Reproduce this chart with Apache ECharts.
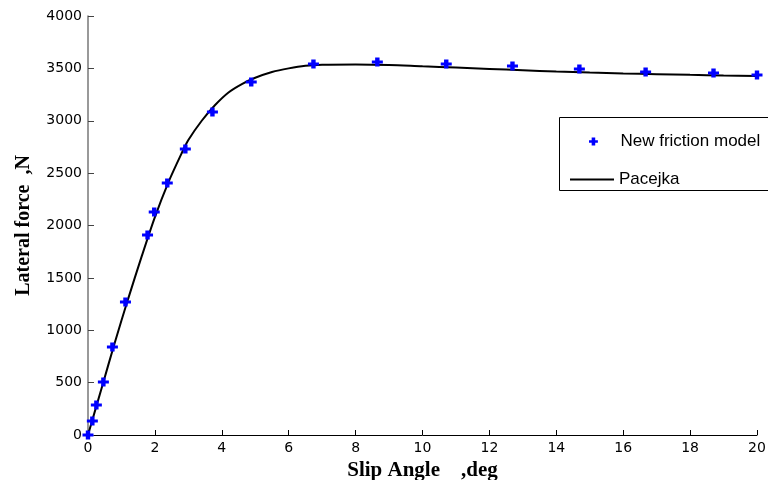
<!DOCTYPE html>
<html>
<head>
<meta charset="utf-8">
<script src="https://cdn.jsdelivr.net/npm/echarts@6/dist/echarts.min.js"></script>
<style>html,body{margin:0;padding:0;background:#fff}#c{width:768px;height:480px}</style>
</head>
<body>
<div id="c"></div>
<script>
// New friction model (points)
var modelAngle = [0.0, 0.13, 0.25, 0.46, 0.73, 1.12, 1.78, 1.98, 2.37, 2.91, 3.72, 4.88, 6.74, 8.65, 10.71, 12.69, 14.69, 16.67, 18.7, 20.0];
var modelForce = [0, 134, 286, 506, 840, 1270, 1909, 2129, 2406, 2730, 3083, 3370, 3542, 3561, 3542, 3523, 3494, 3465, 3456, 3437];
// Pacejka curve
var pacejkaAngle = [0, 0.4, 0.8, 1.2, 1.6, 2.0, 2.4, 2.8, 3.0, 3.4, 3.8, 4.2, 4.6, 5.0, 5.5, 6.0, 6.5, 7.0, 8.0, 9.0, 10.0, 11.0, 12.0, 13.0, 14.0, 15.0, 16.0, 17.0, 18.0, 19.0, 20.0];
var pacejkaForce = [0, 440, 880, 1300, 1700, 2080, 2410, 2690, 2816, 3000, 3150, 3270, 3350, 3410, 3465, 3500, 3525, 3535, 3538, 3533, 3520, 3508, 3495, 3482, 3470, 3460, 3452, 3445, 3438, 3432, 3427];

var names = ['New friction model', 'Pacejka'];
var xName = 'Slip Angle    ,deg';
var yName = 'Lateral force  ,N';

function pairs(a, b) { return a.map(function (v, i) { return [v, b[i]]; }); }

var legendText = { fontFamily: 'Liberation Sans', fontSize: 17, color: '#000' };
var chart = echarts.init(document.getElementById('c'), null, { renderer: 'canvas' });
chart.setOption({
  animation: false,
  backgroundColor: '#fff',
  grid: { left: 88, right: 11, top: 16, bottom: 45, containLabel: false, outerBoundsMode: 'none' },
  legend: [
    {
      orient: 'vertical', left: 589, top: 133, padding: 0,
      itemWidth: 44, itemHeight: 8,
      textStyle: legendText,
      data: [names[0]]
    },
    {
      orient: 'vertical', left: 569, top: 171, padding: 0,
      itemWidth: 44, itemHeight: 14,
      textStyle: legendText,
      data: [{ name: names[1], itemStyle: { color: 'rgba(0,0,0,0)', borderWidth: 0, opacity: 0 } }]
    }
  ],
  graphic: [{
    type: 'rect', left: 557, top: 115, z: 10, silent: true,
    shape: { width: 220, height: 73 },
    style: { fill: 'none', stroke: '#000', lineWidth: 1 }
  }],
  xAxis: {
    type: 'value', min: 0, max: 20, interval: 2,
    name: xName, nameLocation: 'middle', nameGap: 22,
    nameTextStyle: { fontFamily: 'Liberation Serif', fontWeight: 'bold', fontSize: 21, color: '#000' },
    axisLine: { onZero: false, lineStyle: { color: '#000', width: 1 } },
    axisTick: { inside: true, length: 5, lineStyle: { color: '#000' } },
    axisLabel: { margin: 6, fontFamily: 'DejaVu Sans', fontSize: 14, color: '#000' },
    splitLine: { show: false }
  },
  yAxis: {
    type: 'value', min: 0, max: 4000, interval: 500,
    name: yName, nameLocation: 'middle', nameGap: 54, nameRotate: 90,
    nameTextStyle: { fontFamily: 'Liberation Serif', fontWeight: 'bold', fontSize: 20, color: '#000' },
    axisLine: { show: true, lineStyle: { color: '#777', width: 1.5 } },
    axisTick: { show: true, inside: true, length: 6, lineStyle: { color: '#444' } },
    axisLabel: { margin: 6, fontFamily: 'DejaVu Sans', fontSize: 14, color: '#000',
      formatter: function (v) { return String(v); } },
    splitLine: { show: false }
  },
  series: [
    {
      name: names[0], type: 'scatter', clip: false, z: 3,
      symbol: 'path://M3,0H7V3H10V6H7V9H3V6H0V3H3Z',
      symbolSize: [11, 9],
      itemStyle: { color: '#0000ff', opacity: 1 },
      data: pairs(modelAngle, modelForce)
    },
    {
      name: names[1], type: 'line', smooth: 0.3, symbol: 'none', z: 2,
      lineStyle: { color: '#000', width: 2 },
      itemStyle: { color: '#000' },
      data: pairs(pacejkaAngle, pacejkaForce)
    }
  ]
});
</script>
</body>
</html>
